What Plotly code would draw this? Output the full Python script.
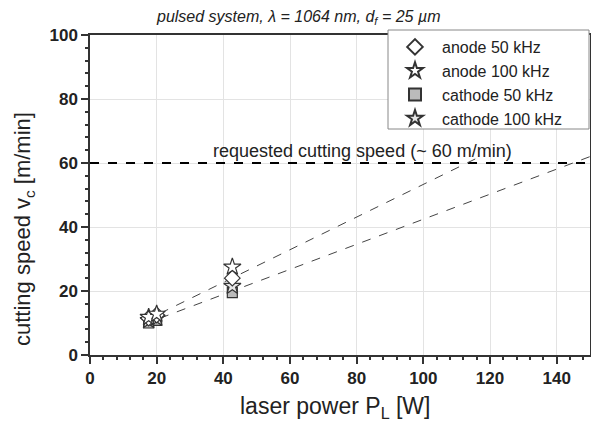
import plotly.graph_objects as go

# data
power = [17.6, 20.0, 42.7]
anode_50 = [11.5, 12.5, 24.0]
anode_100 = [11.8, 12.8, 27.5]
cathode_50 = [10.0, 10.8, 19.5]
cathode_100 = [10.8, 11.5, 21.5]

fit_upper_x = [21, 118]
fit_upper_y = [13.0, 62.5]
fit_lower_x = [21, 150]
fit_lower_y = [11.5, 62.0]

req_x = [0, 150]
req_y = [60, 60]

x_ticks = [0, 20, 40, 60, 80, 100, 120, 140]
y_ticks = [0, 20, 40, 60, 80, 100]

FONT = "Liberation Sans, Arial, sans-serif"
L, R, T, B = 90, 1, 35, 69
W, H = 591, 424
PW, PH = W - L - R, H - T - B

fig = go.Figure()

fig.add_trace(go.Scatter(x=req_x, y=req_y, mode="lines",
                         line=dict(color="black", width=2, dash="dash"),
                         showlegend=False, hoverinfo="skip"))
fig.add_trace(go.Scatter(x=fit_upper_x, y=fit_upper_y, mode="lines",
                         line=dict(color="#444", width=1, dash="dash"),
                         showlegend=False, hoverinfo="skip"))
fig.add_trace(go.Scatter(x=fit_lower_x, y=fit_lower_y, mode="lines",
                         line=dict(color="#444", width=1, dash="dash"),
                         showlegend=False, hoverinfo="skip"))

fig.add_trace(go.Scatter(x=power, y=cathode_50, mode="markers", name="cathode 50 kHz",
                         marker=dict(symbol="square", size=10, color="#bbbbbb",
                                     line=dict(color="#333", width=1.2)),
                         legendrank=3))
fig.add_trace(go.Scatter(x=power, y=cathode_100, mode="markers", name="cathode 100 kHz",
                         marker=dict(symbol="star", size=13, color="#e6e6e6",
                                     line=dict(color="#333", width=1.2)),
                         legendrank=4))
fig.add_trace(go.Scatter(x=power, y=anode_50, mode="markers", name="anode 50 kHz",
                         marker=dict(symbol="diamond", size=12, color="white",
                                     line=dict(color="#333", width=1.2)),
                         legendrank=1))
fig.add_trace(go.Scatter(x=power, y=anode_100, mode="markers", name="anode 100 kHz",
                         marker=dict(symbol="star", size=13, color="white",
                                     line=dict(color="#333", width=1.2)),
                         legendrank=2))

axis_common = dict(
    showline=True, linecolor="#333", linewidth=1.5, mirror=True,
    ticks="outside", ticklen=7, tickwidth=1.5, tickcolor="#333",
    showgrid=True, gridcolor="#e3e3e3", gridwidth=1,
    zeroline=False,
    tickfont=dict(family=FONT, size=17, color="#222", weight="bold"),
)

fig.update_xaxes(range=[0, 150], tickvals=x_ticks,
                 minor=dict(dtick=4, tick0=0, ticks="outside", ticklen=3, tickcolor="#333", showgrid=False),
                 **axis_common)
fig.update_yaxes(range=[0, 100], tickvals=y_ticks,
                 minor=dict(dtick=4, tick0=0, ticks="outside", ticklen=3, tickcolor="#333", showgrid=False),
                 **axis_common)

fig.add_annotation(text="requested cutting speed (~ 60 m/min)", x=(362 - L) / PW, y=60, yshift=0,
                   xref="paper", yref="y", yanchor="bottom", showarrow=False,
                   font=dict(family=FONT, size=18, color="#222"))
fig.add_annotation(text="<i>pulsed system, λ = 1064 nm, d<sub>f</sub> = 25 µm</i>",
                   xref="paper", yref="paper", x=(298 - L) / PW, y=1, yshift=6,
                   yanchor="bottom", showarrow=False,
                   font=dict(family=FONT, size=16, color="#222"))
fig.add_annotation(text="laser power P<sub>L</sub> [W]",
                   xref="paper", yref="paper", x=(335 - L) / PW, y=0, yshift=-36,
                   yanchor="top", showarrow=False,
                   font=dict(family=FONT, size=23, color="#222"))
fig.add_annotation(text="cutting speed v<sub>c</sub> [m/min]",
                   xref="paper", yref="paper", x=0, xshift=-(L - 24), y=(H - B - 229) / PH,
                   textangle=-90, xanchor="center", yanchor="middle", showarrow=False,
                   font=dict(family=FONT, size=22, color="#222"))

# legend frame (wider than the auto-sized legend, as in the reference)
fig.add_shape(type="rect", xref="paper", yref="paper",
              x0=(388 - L) / PW, x1=(589 - L) / PW,
              y0=(H - B - 129) / PH, y1=(H - B - 30) / PH,
              fillcolor="white", line=dict(color="#888", width=1), layer="above")

fig.update_layout(
    width=W, height=H,
    margin=dict(l=L, r=R, t=T, b=B, autoexpand=False),
    plot_bgcolor="white", paper_bgcolor="white",
    font=dict(family=FONT, color="#222"),
    showlegend=True,
    legend=dict(x=(388 - L) / PW, y=1 + 5 / PH, xanchor="left", yanchor="top",
                bgcolor="rgba(0,0,0,0)", borderwidth=0,
                font=dict(family=FONT, size=16, color="#222"),
                itemsizing="constant", itemwidth=44, tracegroupgap=0),
)

fig.write_html("out.html", config={"displayModeBar": False},
               post_script="document.body.style.margin='0';document.body.style.padding='0';")
